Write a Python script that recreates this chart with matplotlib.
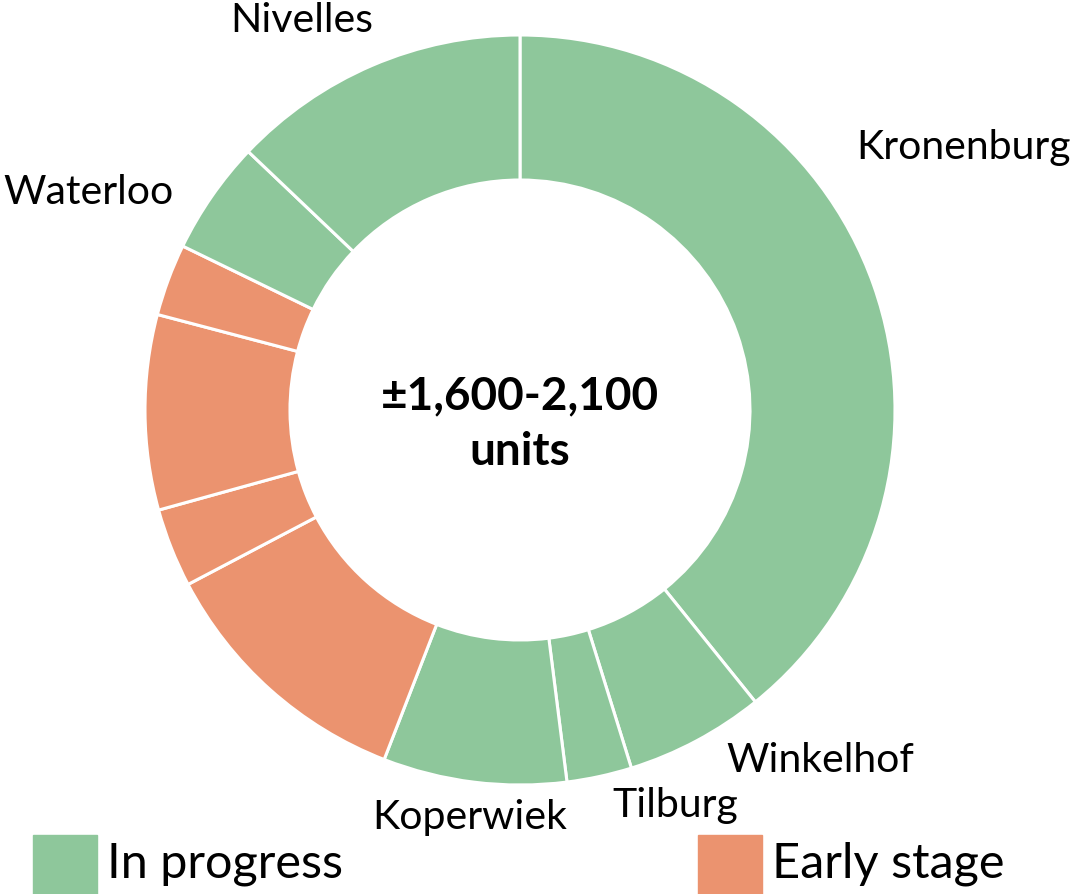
import matplotlib
matplotlib.use("Agg")
import matplotlib.pyplot as plt
from matplotlib.patches import Rectangle

plt.rcParams['font.family'] = ['Lato', 'DejaVu Sans']

# Data (share of units, clockwise from 12 o'clock)
segments = ["Kronenburg", "Winkelhof", "Tilburg", "Koperwiek",
            "Early 1", "Early 2", "Early 3", "Early 4", "Waterloo", "Nivelles"]
shares = [39.2, 6.0, 2.8, 7.9, 11.4, 3.4, 8.4, 3.1, 4.9, 12.9]
status = ["In progress", "In progress", "In progress", "In progress",
          "Early stage", "Early stage", "Early stage", "Early stage",
          "In progress", "In progress"]
shown_labels = ["Kronenburg", "Winkelhof", "Tilburg", "Koperwiek", "", "", "", "", "Waterloo", "Nivelles"]
center_text = "±1,600-2,100\nunits"
legend_items = ["In progress", "Early stage"]

colors = {"In progress": "#8EC79B", "Early stage": "#EB936F"}

W, H = 1076, 894
fig = plt.figure(figsize=(W / 100, H / 100), dpi=100)
ax = fig.add_axes([0, 0, 1, 1])
ax.set_xlim(0, W)
ax.set_ylim(0, H)
ax.set_aspect('equal')
ax.axis('off')

cx, cy = 520, H - 410
R = 375
inner = 230
ax.pie(shares, colors=[colors[s] for s in status], startangle=90, counterclock=False,
       center=(cx, cy), radius=R, frame=True,
       wedgeprops=dict(width=R - inner, edgecolor='white', linewidth=2.2))
ax.set_xlim(0, W)
ax.set_ylim(0, H)
ax.axis('off')

# label positions (pixel, top-origin)
label_pos = {"Nivelles": (302, 20), "Kronenburg": (963, 148), "Waterloo": (88, 192),
             "Winkelhof": (820, 760), "Tilburg": (675, 805), "Koperwiek": (470, 818)}
for lab in shown_labels:
    if lab:
        x, y = label_pos[lab]
        ax.text(x, H - y, lab, ha='center', va='center', fontsize=29.5, color='black')

ax.text(cx, H - 424, center_text, ha='center', va='center', fontsize=33,
        fontweight='bold', linespacing=1.4, color='black')

# legend
leg_x = [33, 698]
for lx, item in zip(leg_x, legend_items):
    ax.add_patch(Rectangle((lx, H - 894), 64, 59, color=colors[item], clip_on=False))
    ax.text(lx + 74, H - 864, item, ha='left', va='center', fontsize=35, color='black')

fig.savefig("out.png", dpi=100)
